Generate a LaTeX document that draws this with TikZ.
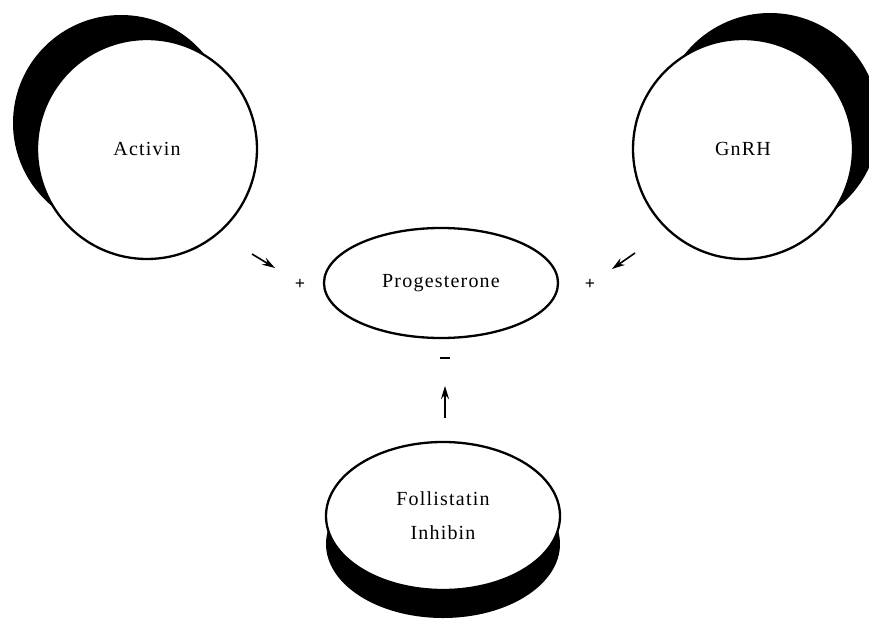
\documentclass[tikz,border=0pt]{standalone}
\usepackage{fontspec}
\setmainfont[LetterSpace=6]{Liberation Serif}
\usetikzlibrary{arrows.meta,shapes.geometric}
\tikzset{
  body/.style={draw, line width=2.3pt, fill=white, inner sep=0pt, font=\fontsize{20}{22}\selectfont},
  ball/.style={body, circle, minimum size=220pt},
  link/.style={line width=1.6pt, -{Stealth[length=13pt,width=8pt]}},
  sign/.style={font=\bfseries\fontsize{18}{18}\selectfont, inner sep=0pt}
}
\begin{document}
\begin{tikzpicture}[x=1pt,y=-1pt]
\useasboundingbox (0,0) rectangle (869,620);
\fill[white] (0,0) rectangle (869,620);
% shadows
\fill[black] (121,123) circle (108pt);
\fill[black] (770,122) circle (109pt);
\fill[black] (443,544) ellipse [x radius=117pt, y radius=74pt];
% main shapes
\node[ball] (act) at (147,149) {Activin};
\node[ball] (gnrh) at (743,149) {GnRH};
\node[body, ellipse, minimum width=234pt, minimum height=110pt] (prog) at (441,283) {Progesterone};
\node[body, ellipse, minimum width=234pt, minimum height=148pt, align=center] (foll) at (443,516) {Follistatin\\[12pt]Inhibin};
% signs
\node[sign] (pl) at (300,284) {+};
\node[sign] (pr) at (590,284) {+};
\node[sign] (mi) at (445,360) {\rule[0.25em]{10pt}{1.8pt}};
% arrows
\coordinate (a1) at (252,254);
\coordinate (a2) at (275,268);
\coordinate (g1) at (635,253);
\coordinate (g2) at (612,269);
\coordinate (f1) at (445,418);
\coordinate (f2) at (445,386);
\draw[link] (a1) -- (a2);
\draw[link] (g1) -- (g2);
\draw[link] (f1) -- (f2);
\end{tikzpicture}
\end{document}
